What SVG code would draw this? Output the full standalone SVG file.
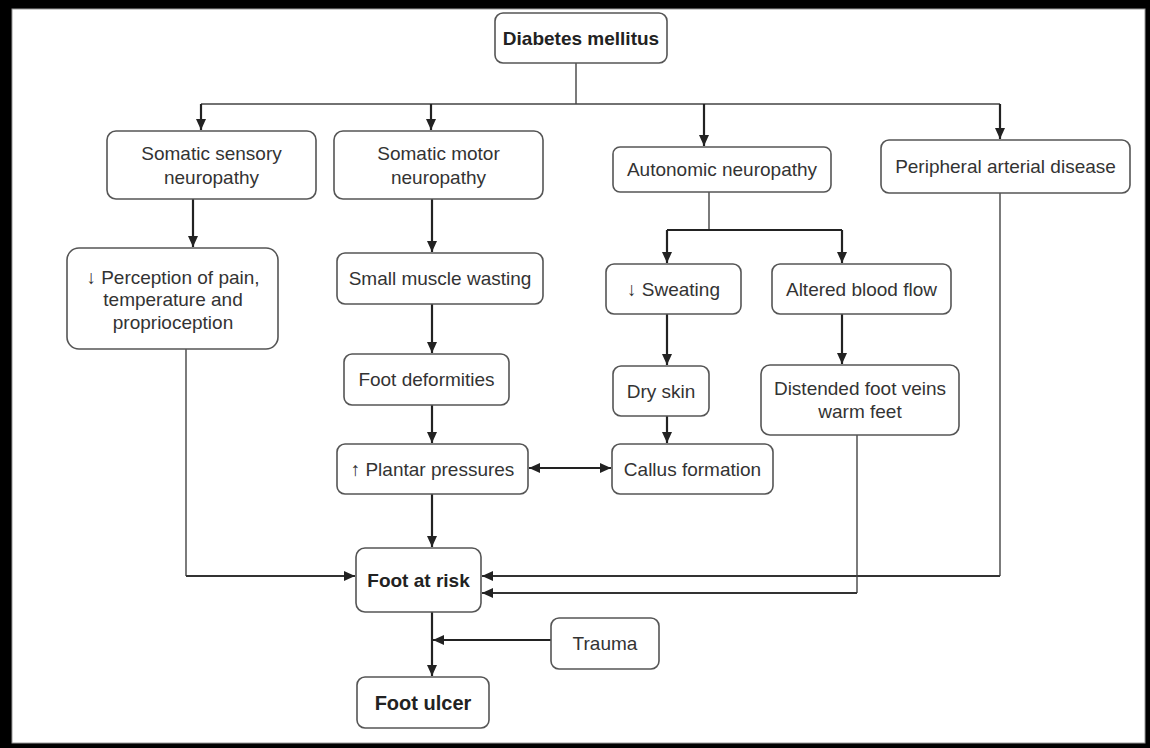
<svg xmlns="http://www.w3.org/2000/svg" width="1150" height="748" viewBox="0 0 1150 748">
<style>
.box{fill:#fff;stroke:#555;stroke-width:1.6}
.t{font-family:"Liberation Sans",Arial,sans-serif;font-size:19px;fill:#333;text-anchor:middle}
.b{font-weight:bold;fill:#222}
.thin{fill:none;stroke:#444;stroke-width:1.4}
.thick{fill:none;stroke:#222;stroke-width:2.2}
.mid{fill:none;stroke:#333;stroke-width:1.8}
</style>
<defs>
<marker id="ah" markerUnits="userSpaceOnUse" markerWidth="12" markerHeight="10" refX="11" refY="5" orient="auto-start-reverse">
<path d="M0,0 L11,5 L0,10 z" fill="#222"/>
</marker>
</defs>
<rect x="0" y="0" width="1150" height="748" fill="#000"/>
<rect x="12" y="9" width="1133" height="734" fill="#fff" stroke="#999" stroke-width="1"/>

<g id="connectors">
<path class="thin" d="M576,63 V104 M201,104 H1000"/>
<path class="thick" d="M201,104 V130" marker-end="url(#ah)"/>
<path class="thick" d="M431,104 V130" marker-end="url(#ah)"/>
<path class="thick" d="M704,104 V146" marker-end="url(#ah)"/>
<path class="thick" d="M1000,104 V139" marker-end="url(#ah)"/>
<path class="thick" d="M193,199 V247" marker-end="url(#ah)"/>
<path class="thick" d="M432,199 V252" marker-end="url(#ah)"/>
<path class="thick" d="M432,304 V353" marker-end="url(#ah)"/>
<path class="thick" d="M432,405 V443" marker-end="url(#ah)"/>
<path class="thick" d="M432,494 V547" marker-end="url(#ah)"/>
<path class="thin" d="M709,192 V230"/>
<path class="thick" d="M667,230 H842"/>
<path class="thick" d="M667,230 V263" marker-end="url(#ah)"/>
<path class="thick" d="M842,230 V263" marker-end="url(#ah)"/>
<path class="thick" d="M667,314 V365" marker-end="url(#ah)"/>
<path class="thick" d="M667,416 V443" marker-end="url(#ah)"/>
<path class="thick" d="M842,314 V364" marker-end="url(#ah)"/>
<path class="thick" d="M529,468 H611" marker-start="url(#ah)" marker-end="url(#ah)"/>
<path class="thin" d="M186,349 V576"/>
<path class="mid" d="M186,576 H355" marker-end="url(#ah)"/>
<path class="thin" d="M1000,193 V576"/>
<path class="mid" d="M1000,576 H482" marker-end="url(#ah)"/>
<path class="thin" d="M857,435 V593"/>
<path class="mid" d="M857,593 H482" marker-end="url(#ah)"/>
<path class="thick" d="M432,612 V676" marker-end="url(#ah)"/>
<path class="thick" d="M551,640 H433" marker-end="url(#ah)"/>
</g>

<g id="diabetes"><rect class="box" x="495" y="13" width="172" height="50" rx="8"/><text class="t b" x="581" y="45">Diabetes mellitus</text></g>
<g id="sensory"><rect class="box" x="107" y="131" width="209" height="68" rx="9"/><text class="t" x="211.5" y="160">Somatic sensory</text><text class="t" x="211.5" y="184">neuropathy</text></g>
<g id="motor"><rect class="box" x="334" y="131" width="209" height="68" rx="9"/><text class="t" x="438.5" y="160">Somatic motor</text><text class="t" x="438.5" y="184">neuropathy</text></g>
<g id="autonomic"><rect class="box" x="613" y="147" width="218" height="45" rx="7"/><text class="t" x="722" y="176">Autonomic neuropathy</text></g>
<g id="peripheral"><rect class="box" x="881" y="140" width="249" height="53" rx="8"/><text class="t" x="1005.5" y="173">Peripheral arterial disease</text></g>
<g id="perception"><rect class="box" x="67" y="248" width="211" height="101" rx="12"/><text class="t" x="173" y="284">↓ Perception of pain,</text><text class="t" x="173" y="306">temperature and</text><text class="t" x="173" y="329">proprioception</text></g>
<g id="wasting"><rect class="box" x="337" y="253" width="206" height="51" rx="8"/><text class="t" x="440" y="285">Small muscle wasting</text></g>
<g id="deformities"><rect class="box" x="344" y="354" width="165" height="51" rx="8"/><text class="t" x="426.5" y="386">Foot deformities</text></g>
<g id="sweating"><rect class="box" x="606" y="264" width="135" height="50" rx="8"/><text class="t" x="673.5" y="296">↓ Sweating</text></g>
<g id="bloodflow"><rect class="box" x="772" y="264" width="179" height="50" rx="8"/><text class="t" x="861.5" y="296">Altered blood flow</text></g>
<g id="dryskin"><rect class="box" x="613" y="366" width="96" height="50" rx="8"/><text class="t" x="661" y="398">Dry skin</text></g>
<g id="distended"><rect class="box" x="761" y="365" width="198" height="70" rx="9"/><text class="t" x="860" y="395">Distended foot veins</text><text class="t" x="860" y="418">warm feet</text></g>
<g id="plantar"><rect class="box" x="337" y="444" width="191" height="50" rx="8"/><text class="t" x="432.5" y="476">↑ Plantar pressures</text></g>
<g id="callus"><rect class="box" x="612" y="444" width="161" height="50" rx="8"/><text class="t" x="692.5" y="476">Callus formation</text></g>
<g id="footrisk"><rect class="box" x="356" y="548" width="125" height="64" rx="9"/><text class="t b" x="418.5" y="587">Foot at risk</text></g>
<g id="trauma"><rect class="box" x="551" y="618" width="108" height="51" rx="8"/><text class="t" x="605" y="650">Trauma</text></g>
<g id="ulcer"><rect class="box" x="357" y="677" width="132" height="51" rx="8"/><text class="t b" x="423" y="710" style="font-size:20px">Foot ulcer</text></g>
</svg>
